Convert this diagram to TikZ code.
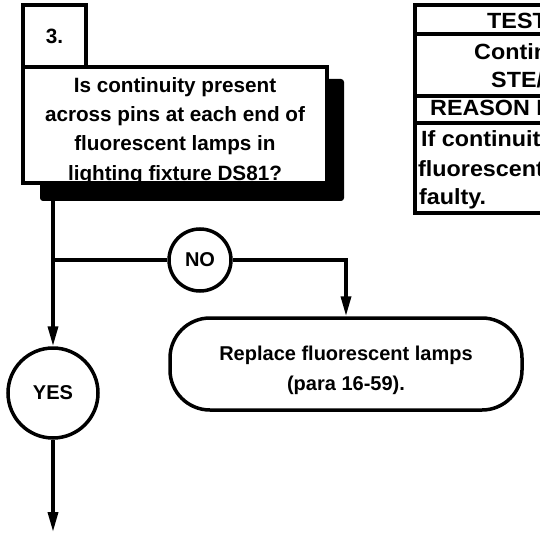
\documentclass[tikz,border=0pt]{standalone}
\usepackage{fontspec}
\setmainfont{Liberation Sans}
\newfontfamily\cellfont[FakeStretch=1.06]{Liberation Sans}
\usetikzlibrary{arrows.meta}
\begin{document}
\begin{tikzpicture}[x=1bp,y=-1bp,
  txt/.style={font=\fontsize{20.7bp}{29.3bp}\selectfont\bfseries, inner sep=0pt, align=center},
  celltxt/.style={font=\cellfont\fontsize{22bp}{26bp}\selectfont\bfseries, inner sep=0pt, anchor=base west},
  boxframe/.style={rectangle, draw, line width=3.5bp, fill=white, inner sep=0pt},
  ring/.style={circle, draw, line width=3.5bp, fill=white, inner sep=0pt,
    font=\fontsize{20bp}{24bp}\selectfont\bfseries},
  pill/.style={rectangle, draw, line width=3.5bp, rounded corners=40bp, fill=white, inner sep=0pt},
  link/.style={line width=3.5bp},
  flow/.style={line width=3.5bp, -{Triangle[length=20bp,width=10bp]}}
]
\useasboundingbox (0,0) rectangle (540,533);

% step number tab
\node[boxframe, minimum width=63bp, minimum height=62bp, txt] (num) at (54.5,36) {3.};

% question box with its drop shadow
\fill[rounded corners=3bp] (40,79) rectangle (344,201);
\node[boxframe, minimum width=304bp, minimum height=116bp] (q) at (175,125) {};
\node[txt, anchor=north] (qtext) at (175,77)
  {Is continuity present\\across pins at each end of\\fluorescent lamps in\\lighting fixture DS81?};

% test / reason table, running off the right edge
\begin{scope}
  \clip (0,0) rectangle (540,533);
  \draw[line width=3.5bp] (415,5) rectangle (580,213);
  \draw[line width=4.5bp] (415,34) -- (580,34);
  \draw[line width=4.5bp] (415,96) -- (580,96);
  \draw[line width=4.5bp] (415,123) -- (580,123);
  \node[celltxt] (thead) at (487,29) {TEST};
  \node[celltxt] (tline1) at (474,60) {Contin};
  \node[celltxt] (tline2) at (491,88) {STE/};
  \node[celltxt] (rhead) at (430,116) {REASON F};
  \node[celltxt] (rline1) at (421,147) {If continuit};
  \node[celltxt] (rline2) at (418,177) {fluorescent};
  \node[celltxt] (rline3) at (419,205) {faulty.};
\end{scope}

% decision branches
\node[ring, minimum size=62bp] (no) at (200,260) {NO};
\node[ring, minimum size=90bp] (yes) at (53,393) {YES};
\node[pill, minimum width=352bp, minimum height=92bp] (fix) at (346,364) {};
\node[txt, font=\fontsize{20bp}{30bp}\selectfont\bfseries] (fixtext) at (346,370)
  {Replace fluorescent lamps\\(para 16-59).};

\coordinate (foot) at (53,201);
\coordinate (fork) at (53,260);
\coordinate (next) at (53,532);

\draw[flow] (foot) -- (yes.north);
\draw[link] (fork) -- (no.west);
\draw[flow] (no.east) -| (fix.north);
\draw[flow] (yes.south) -- (next);
\end{tikzpicture}
\end{document}
